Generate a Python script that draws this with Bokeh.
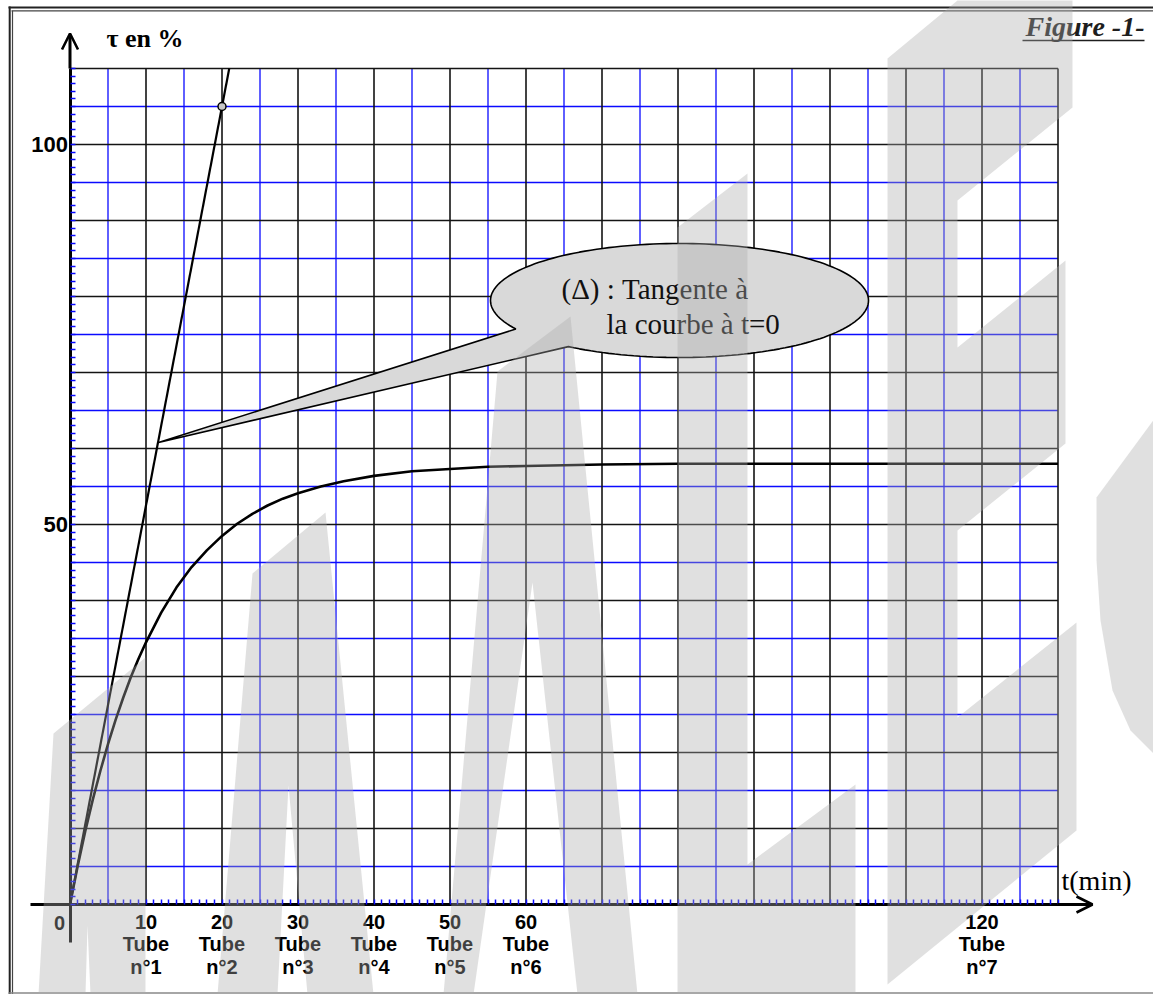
import math
from bokeh.plotting import figure
from bokeh.models import Range1d, LinearAxis, FixedTicker, Label, Arrow, OpenHead
from bokeh.embed import file_html
from bokeh.resources import INLINE

# ---------------- data ----------------
t_min = [0, 1, 2, 3, 4, 5, 6, 7, 8, 9, 10, 12, 14, 16, 18, 20, 22, 24, 26, 28,
         30, 33, 36, 40, 45, 50, 55, 60, 70, 80, 90, 100, 110, 120, 130]
tau_pct = [0, 5.0, 9.6, 13.8, 17.6, 21.1, 24.3, 27.2, 29.9, 32.3, 34.5, 38.4, 41.7,
           44.4, 46.6, 48.5, 50.1, 51.4, 52.5, 53.4, 54.1, 55.0, 55.7, 56.4, 57.0,
           57.3, 57.6, 57.7, 57.9, 58.0, 58.0, 58.0, 58.0, 58.0, 58.0]

tangent_t = [0, 20]
tangent_tau = [0, 105]

tube_times = [10, 20, 30, 40, 50, 60, 120]
tube_names = ["Tube\nn°1", "Tube\nn°2", "Tube\nn°3", "Tube\nn°4",
              "Tube\nn°5", "Tube\nn°6", "Tube\nn°7"]
y_ticks = [50, 100]

t_max, tau_max = 130, 110
major_step, minor_step = 10, 5

# ---------------- layout helpers (reference pixel -> data) ----------------
X0, Y0, S = 69.5, 904.0, 7.6
def rx(px):
    return (px - X0) / S
def ry(py):
    return (Y0 - py) / S

W, H = 1153, 994
p = figure(width=W, height=H, output_backend="svg", toolbar_location=None,
           x_range=Range1d(rx(0), rx(W)), y_range=Range1d(ry(H), ry(0)),
           x_axis_location=None, y_axis_location=None, min_border=0,
           outline_line_color=None, background_fill_color="white",
           border_fill_color="white")
for g in p.grid:
    g.visible = False

# ---------------- grid ----------------
blue_v = list(range(minor_step, t_max, major_step))
black_v = list(range(major_step, t_max + 1, major_step))
blue_h = list(range(minor_step, tau_max, major_step))
black_h = list(range(major_step, tau_max + 1, major_step))

p.segment(x0=blue_v, x1=blue_v, y0=[0] * len(blue_v), y1=[tau_max] * len(blue_v),
          line_color="#0a0aff", line_width=1.3)
p.segment(x0=[0] * len(blue_h), x1=[t_max] * len(blue_h), y0=blue_h, y1=blue_h,
          line_color="#0a0aff", line_width=1.3)
p.segment(x0=black_v, x1=black_v, y0=[0] * len(black_v), y1=[tau_max] * len(black_v),
          line_color="#141414", line_width=1.6)
p.segment(x0=[0] * len(black_h), x1=[t_max] * len(black_h), y0=black_h, y1=black_h,
          line_color="#141414", line_width=1.6)

# ---------------- curves ----------------
slope = tangent_tau[1] / tangent_t[1]
t_top = tau_max / slope
p.line([tangent_t[0], t_top], [tangent_tau[0], tau_max], line_color="black", line_width=2.2)
p.line(t_min, tau_pct, line_color="black", line_width=2.6)
p.scatter(tangent_t[1:], tangent_tau[1:], size=8, fill_color="#c8c8c8",
          line_color="black", line_width=1.5)

# ---------------- callout bubble ----------------
cx, cy, ea, eb = 679, 300, 189, 57
bx, by = [], []
deg = 126.0
while deg >= -211.0:
    r = math.radians(deg)
    bx.append(rx(cx + ea * math.cos(r)))
    by.append(ry(cy + eb * math.sin(r)))
    deg -= 2.0
bx.append(rx(158)); by.append(ry(442))
p.patch(bx, by, fill_color="#d9d9d9", line_color="black", line_width=1.6)

serif = "Liberation Serif"
p.add_layout(Label(x=rx(561), y=ry(288), text="(Δ) : Tangente à", text_font=serif,
                   text_font_size="29px", text_color="#111111", text_baseline="alphabetic"))
p.add_layout(Label(x=rx(606), y=ry(323), text="la courbe à t=0", text_font=serif,
                   text_font_size="29px", text_color="#111111", text_baseline="alphabetic"))

# ---------------- axes ----------------
xaxis = LinearAxis(fixed_location=0, bounds=(rx(30), t_max),
                   ticker=FixedTicker(ticks=tube_times, minor_ticks=list(range(0, t_max + 1))))
xaxis.major_label_overrides = {t: f"{t}\n{n}" for t, n in zip(tube_times, tube_names)}
xaxis.axis_line_width = 3
xaxis.axis_line_color = "black"
xaxis.major_tick_in = 0
xaxis.major_tick_out = 0
xaxis.minor_tick_in = 5
xaxis.minor_tick_out = 0
xaxis.minor_tick_line_color = "#0a0aff"
xaxis.minor_tick_line_width = 1.5
xaxis.major_label_standoff = 6
xaxis.major_label_text_font = "Liberation Sans"
xaxis.major_label_text_font_style = "bold"
xaxis.major_label_text_font_size = "20px"
xaxis.major_label_text_line_height = 1.03
xaxis.major_label_text_color = "black"
p.add_layout(xaxis, "below")

yaxis = LinearAxis(fixed_location=0, bounds=(ry(942), tau_max),
                   ticker=FixedTicker(ticks=y_ticks, minor_ticks=list(range(0, tau_max + 1))))
yaxis.axis_line_width = 3
yaxis.axis_line_color = "black"
yaxis.major_tick_in = 0
yaxis.major_tick_out = 0
yaxis.minor_tick_in = 5
yaxis.minor_tick_out = 0
yaxis.minor_tick_line_color = "#0a0aff"
yaxis.minor_tick_line_width = 1.5
yaxis.major_label_standoff = 2
yaxis.major_label_text_font = "Liberation Sans"
yaxis.major_label_text_font_style = "bold"
yaxis.major_label_text_font_size = "22px"
yaxis.major_label_text_color = "black"
p.add_layout(yaxis, "left")

p.add_layout(Arrow(end=OpenHead(size=16, line_width=2.6, line_color="black"),
                   x_start=0, y_start=tau_max, x_end=0, y_end=ry(33),
                   line_width=3, line_color="black"))
p.add_layout(Arrow(end=OpenHead(size=16, line_width=2.6, line_color="black"),
                   x_start=t_max, y_start=0, x_end=rx(1092), y_end=0,
                   line_width=3, line_color="black"))

p.add_layout(Label(x=rx(59), y=ry(922), text="0", text_font="Liberation Sans",
                   text_font_style="bold", text_font_size="20px", text_align="center",
                   text_baseline="middle", text_color="black"))
p.add_layout(Label(x=rx(106), y=ry(38), text="τ  en %", text_font=serif,
                   text_font_style="bold", text_font_size="26px", text_color="black",
                   text_baseline="alphabetic"))
p.add_layout(Label(x=rx(1061), y=ry(880), text="t(min)", text_font=serif,
                   text_font_size="28px", text_color="black", text_baseline="alphabetic"))
p.add_layout(Label(x=rx(1144), y=ry(26), text="Figure -1-", text_font=serif,
                   text_font_style="bold italic", text_font_size="28px",
                   text_color="#1e1e1e", text_align="right", text_baseline="alphabetic"))
p.line([rx(1022), rx(1144)], [ry(40), ry(40)], line_color="#1e1e1e", line_width=1.5)

# ---------------- page border ----------------
p.line([rx(9.2), rx(9.2)], [ry(6), ry(994)], line_color="#222222", line_width=2)
p.line([rx(12), rx(12)], [ry(10.3), ry(994)], line_color="#444444", line_width=1.2)
p.line([rx(8), rx(1153)], [ry(7), ry(7)], line_color="#222222", line_width=2)
p.line([rx(11), rx(1153)], [ry(10.3), ry(10.3)], line_color="#444444", line_width=1.2)
p.line([rx(8), rx(1153)], [ry(992.5), ry(992.5)], line_color="#888888", line_width=1.5)

# ---------------- watermark (semi-transparent grey shapes over everything) ----------------
wm = [
    [(38, 994), (53, 733), (145, 657), (145, 994), (90, 994), (87, 925), (85, 994)],
    [(217, 994), (252, 573), (325, 512), (373, 994), (307, 994), (288, 785), (277, 994)],
    [(443, 994), (497, 371), (570, 316), (637, 994), (577, 994), (532, 582), (473, 994)],
    [(677, 994), (677, 227), (747, 173), (747, 864), (855, 784), (855, 994)],
    [(887, 984), (887, 58), (957, 0), (1072, 0), (1072, 107), (957, 200), (957, 347),
     (1065, 260), (1065, 443), (957, 530), (957, 717), (1076, 622), (1076, 830)],
    [(1096, 497), (1160, 410), (1160, 760), (1130, 730), (1112, 690), (1100, 620), (1096, 560)],
]
p.patches([[rx(a) for a, b in poly] for poly in wm], [[ry(b) for a, b in poly] for poly in wm],
          fill_color="#acacac", fill_alpha=0.373, line_color=None, level="overlay")

open("out.html", "w").write(file_html(p, INLINE))
